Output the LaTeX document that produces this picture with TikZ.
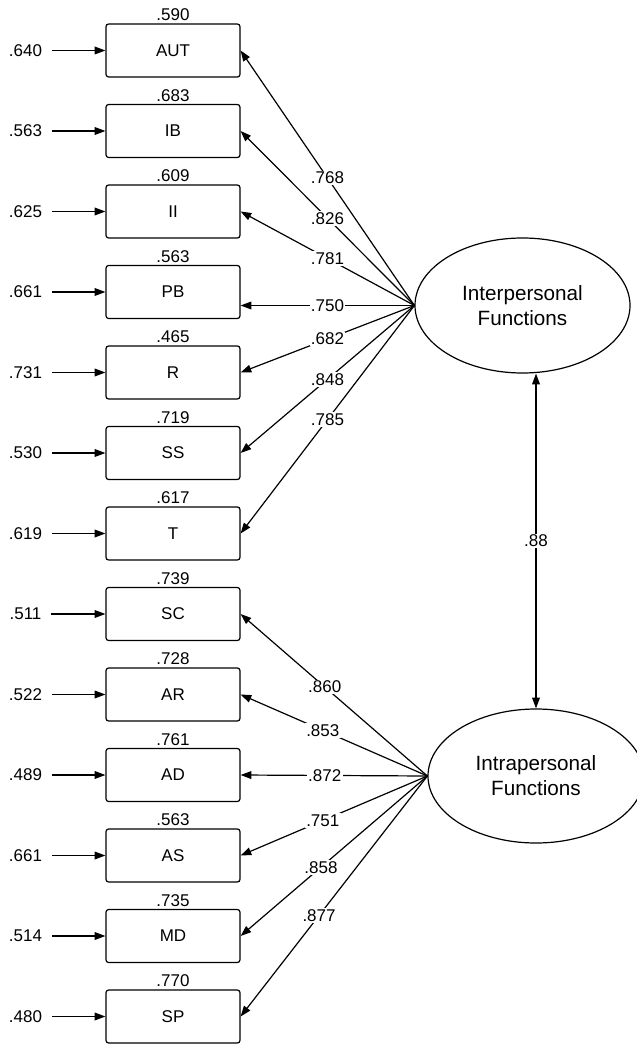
\documentclass[tikz,border=0pt]{standalone}
\usepackage{fontspec}
\setmainfont{Liberation Sans}
\usetikzlibrary{arrows.meta,positioning,shapes.geometric}

\tikzset{
  obs/.style={draw,rounded corners=2pt,minimum width=100.5pt,minimum height=39.75pt,inner sep=0pt,font=\fontsize{12.75}{15}\selectfont},
  lat/.style={draw,ellipse,inner sep=0pt,align=center,font=\fontsize{15.5}{18.75}\selectfont},
  err/.style={inner xsep=7pt,inner ysep=0pt,font=\fontsize{12.75}{15}\selectfont},
  rsq/.style={inner sep=0pt,font=\fontsize{12.75}{15}\selectfont},
  coef/.style={fill=white,inner sep=1pt,font=\fontsize{12.75}{15}\selectfont},
  tip/.style={-{Triangle[length=8pt,width=5.75pt]}},
  twotip/.style={{Triangle[length=8pt,width=5.75pt]}-{Triangle[length=8pt,width=5.75pt]}},
}

\begin{document}
\begin{tikzpicture}[x=0.75pt,y=-0.75pt,line width=0.9pt]
%set diagram size: 636 x 1044
\useasboundingbox (0,0) rectangle (636,1044);

%Shape: Ellipse [latent]
\node[lat,minimum width=161.25pt,minimum height=101.25pt] (inter) at (522.5,305.5) {Interpersonal\\Functions};
%Shape: Ellipse [latent]
\node[lat,minimum width=162pt,minimum height=100.5pt] (intra) at (536,776) {Intrapersonal\\Functions};

%Shape: Rectangle [observed]
\node[obs] (aut) at (173,50.5) {AUT};
\node[obs] (ib) at (173,131) {IB};
\node[obs] (ii) at (173,211.5) {II};
\node[obs] (pb) at (173,292) {PB};
\node[obs] (r) at (173,372.5) {R};
\node[obs] (ss) at (173,453) {SS};
\node[obs] (t) at (173,533.5) {T};
\node[obs] (sc) at (173,614) {SC};
\node[obs] (ar) at (173,694.5) {AR};
\node[obs] (ad) at (173,775) {AD};
\node[obs] (as) at (173,855.5) {AS};
\node[obs] (md) at (173,936) {MD};
\node[obs] (sp) at (173,1016.5) {SP};

% Text Node [r squared]
\node[rsq,above=1.5pt of aut] (raut) {.590};
\node[rsq,above=1.5pt of ib] (rib) {.683};
\node[rsq,above=1.5pt of ii] (rii) {.609};
\node[rsq,above=1.5pt of pb] (rpb) {.563};
\node[rsq,above=1.5pt of r] (rr) {.465};
\node[rsq,above=1.5pt of ss] (rss) {.719};
\node[rsq,above=1.5pt of t] (rt) {.617};
\node[rsq,above=1.5pt of sc] (rsc) {.739};
\node[rsq,above=1.5pt of ar] (rar) {.728};
\node[rsq,above=1.5pt of ad] (rad) {.761};
\node[rsq,above=1.5pt of as] (ras) {.563};
\node[rsq,above=1.5pt of md] (rmd) {.735};
\node[rsq,above=1.5pt of sp] (rsp) {.770};

% Text Node [errors]
\node[err] (eaut) at (25.5,50.5) {.640};
\node[err] (eib) at (25.5,131) {.563};
\node[err] (eii) at (25.5,211.5) {.625};
\node[err] (epb) at (25.5,292) {.661};
\node[err] (er) at (25.5,372.5) {.731};
\node[err] (ess) at (25.5,453) {.530};
\node[err] (et) at (25.5,533.5) {.619};
\node[err] (esc) at (25.5,614) {.511};
\node[err] (ear) at (25.5,694.5) {.522};
\node[err] (ead) at (25.5,775) {.489};
\node[err] (eas) at (25.5,855.5) {.661};
\node[err] (emd) at (25.5,936) {.514};
\node[err] (esp) at (25.5,1016.5) {.480};

%Straight Lines [errors]
\draw[tip] (eaut) -- (aut);
\draw[tip] (eib) -- (ib);
\draw[tip] (eii) -- (ii);
\draw[tip] (epb) -- (pb);
\draw[tip] (er) -- (r);
\draw[tip] (ess) -- (ss);
\draw[tip] (et) -- (t);
\draw[tip] (esc) -- (sc);
\draw[tip] (ear) -- (ar);
\draw[tip] (ead) -- (ad);
\draw[tip] (eas) -- (as);
\draw[tip] (emd) -- (md);
\draw[tip] (esp) -- (sp);

%Straight Lines [interpersonal loadings]
\draw[tip] (inter.west) -- node[coef] (laut) {.768} (aut.east);
\draw[tip] (inter.west) -- node[coef] (lib) {.826} (ib.east);
\draw[tip] (inter.west) -- node[coef] (lii) {.781} (ii.east);
\draw[tip] (inter.west) -- node[coef] (lpb) {.750} (pb.east |- inter.west);
\draw[tip] (inter.west) -- node[coef] (lr) {.682} (r.east);
\draw[tip] (inter.west) -- node[coef] (lss) {.848} (ss.east);
\draw[tip] (inter.west) -- node[coef] (lt) {.785} (t.east);

%Straight Lines [intrapersonal loadings]
\draw[tip] (intra.west) -- node[coef,pos=.55] (lsc) {.860} (sc.east);
\draw[tip] (intra.west) -- node[coef,pos=.56] (lar) {.853} (ar.east);
\draw[tip] (intra.west) -- node[coef,pos=.55] (lad) {.872} (ad.east);
\draw[tip] (intra.west) -- node[coef,pos=.56] (las) {.751} (as.east);
\draw[tip] (intra.west) -- node[coef,pos=.57] (lmd) {.858} (md.east);
\draw[tip] (intra.west) -- node[coef,pos=.58] (lsp) {.877} (sp.east);

%Straight Lines [correlation]
\draw[twotip] (intra.north) -- node[coef] (lcor) {.88} (intra.north |- inter.south);

\end{tikzpicture}
\end{document}
